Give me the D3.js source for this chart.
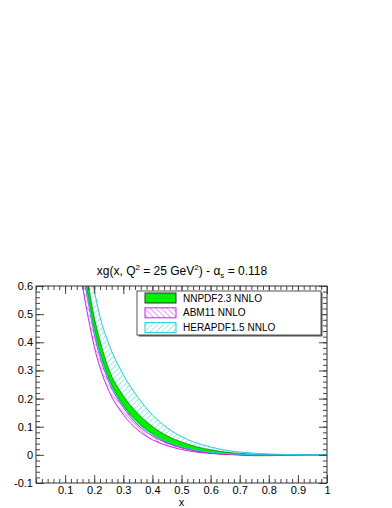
<!DOCTYPE html>
<html>
<head>
<meta charset="utf-8">
<script src="https://cdn.jsdelivr.net/npm/d3@7"></script>
<style>
  body { margin: 0; background: #fff; }
  text { font-family: "Liberation Sans", Arial, sans-serif; fill: #000; }
</style>
</head>
<body>
<div class="canvas"></div>
<script>

// x grid shared by all bands
const xs = [0.15, 0.16, 0.17, 0.18, 0.2, 0.22, 0.25, 0.3, 0.35, 0.4, 0.45, 0.5, 0.55, 0.6, 0.65, 0.7, 0.75, 0.8, 0.85, 0.9, 0.95, 1.0];

// NNPDF2.3 NNLO band
const nnpdfLow  = [0.76, 0.68, 0.615, 0.56, 0.45, 0.365, 0.272, 0.176, 0.116, 0.073, 0.044, 0.026, 0.014, 0.006, 0.002, -0.001, -0.003, -0.003, -0.002, -0.001, 0, 0];
const nnpdfHigh = [0.80, 0.72, 0.655, 0.60, 0.49, 0.405, 0.305, 0.21, 0.147, 0.101, 0.068, 0.046, 0.029, 0.018, 0.010, 0.005, 0.002, 0.0005, 0, 0, 0, 0];

// ABM11 NNLO band
const abmLow  = [0.68, 0.60, 0.54, 0.485, 0.385, 0.31, 0.228, 0.143, 0.088, 0.054, 0.033, 0.019, 0.010, 0.005, 0.002, 0.0005, 0, 0, 0, 0, 0, 0];
const abmHigh = [0.74, 0.66, 0.595, 0.54, 0.43, 0.348, 0.26, 0.168, 0.106, 0.067, 0.042, 0.025, 0.014, 0.007, 0.003, 0.001, 0.0003, 0, 0, 0, 0, 0];

// HERAPDF1.5 NNLO band
const heraLow  = [0.74, 0.66, 0.60, 0.545, 0.44, 0.357, 0.266, 0.172, 0.112, 0.073, 0.047, 0.029, 0.017, 0.009, 0.005, 0.002, 0.0008, 0.0003, 0, 0, 0, 0];
const heraHigh = [0.90, 0.82, 0.75, 0.69, 0.585, 0.49, 0.395, 0.285, 0.205, 0.142, 0.097, 0.065, 0.043, 0.028, 0.017, 0.010, 0.006, 0.003, 0.0015, 0.0005, 0.0001, 0];

const legendLabels = ['NNPDF2.3 NNLO', 'ABM11 NNLO', 'HERAPDF1.5 NNLO'];
const xTickLabels = ['0.1', '0.2', '0.3', '0.4', '0.5', '0.6', '0.7', '0.8', '0.9', '1'];
const yTickLabels = ['-0.1', '0', '0.1', '0.2', '0.3', '0.4', '0.5', '0.6'];

const green = '#00f000', greenLine = '#008800';
const magenta = '#cc22ee', cyan = '#22cdd4';

const margin = { top: 286, right: 65, bottom: 25, left: 36 };
const width = 392, height = 508;
const graphWidth = width - margin.left - margin.right;
const graphHeight = height - margin.top - margin.bottom;

const svg = d3.select('.canvas')
    .append('svg')
        .attr('width', width)
        .attr('height', height);

const defs = svg.append('defs');

defs.append('clipPath').attr('id', 'frame-clip')
    .append('rect')
        .attr('width', graphWidth)
        .attr('height', graphHeight);

// hatch patterns
const hatch = (id, color, angle) => {
    const p = defs.append('pattern')
        .attr('id', id)
        .attr('patternUnits', 'userSpaceOnUse')
        .attr('width', 4)
        .attr('height', 4)
        .attr('patternTransform', `rotate(${angle})`);
    p.append('line')
        .attr('x1', 0).attr('y1', 0)
        .attr('x2', 0).attr('y2', 4)
        .attr('stroke', color)
        .attr('stroke-width', 0.9);
};
hatch('hatch-abm', magenta, -45);
hatch('hatch-hera', cyan, 45);

const graph = svg.append('g')
    .attr('transform', `translate(${margin.left}, ${margin.top})`);

// scales
const x = d3.scaleLinear().domain([0, 1]).range([0, graphWidth]);
const y = d3.scaleLinear().domain([-0.1, 0.6]).range([graphHeight, 0]);

const band = (low, high) => xs.map((v, i) => ({ x: v, lo: low[i], hi: high[i] }));

const area = d3.area()
    .x(d => x(d.x))
    .y0(d => y(d.lo))
    .y1(d => y(d.hi))
    .curve(d3.curveMonotoneX);

const lineLo = d3.line().x(d => x(d.x)).y(d => y(d.lo)).curve(d3.curveMonotoneX);
const lineHi = d3.line().x(d => x(d.x)).y(d => y(d.hi)).curve(d3.curveMonotoneX);

const plot = graph.append('g').attr('clip-path', 'url(#frame-clip)');

const bands = [
    { data: band(abmLow, abmHigh), fill: 'url(#hatch-abm)', stroke: magenta },
    { data: band(heraLow, heraHigh), fill: 'url(#hatch-hera)', stroke: cyan }
];

bands.forEach(b => {
    plot.append('path').datum(b.data)
        .attr('d', area)
        .attr('fill', b.fill);
});

// nnpdf solid band on top
const nn = band(nnpdfLow, nnpdfHigh);
plot.append('path').datum(nn)
    .attr('d', area)
    .attr('fill', green);
[lineLo, lineHi].forEach(l => {
    plot.append('path').datum(nn)
        .attr('d', l)
        .attr('fill', 'none')
        .attr('stroke', greenLine)
        .attr('stroke-width', 0.8);
});

bands.forEach(b => {
    [lineLo, lineHi].forEach(l => {
        plot.append('path').datum(b.data)
            .attr('d', l)
            .attr('fill', 'none')
            .attr('stroke', b.stroke)
            .attr('stroke-width', 1);
    });
});

// axes, ROOT style ticks pointing inwards on all sides
const yMajor = yTickLabels.map(Number);
const xMajor = xTickLabels.map(Number);
const yMinor = d3.range(-0.1, 0.6001, 0.02);
const xMinor = d3.range(0, 1.0001, 0.02);

const axisStyle = g => {
    g.select('.domain').remove();
    g.selectAll('line').attr('stroke', '#444');
    g.selectAll('text')
        .style('font-family', '"Liberation Sans", Arial, sans-serif')
        .style('font-size', '11px')
        .attr('fill', '#000');
};

graph.append('g')
    .call(d3.axisLeft(y).tickValues(yMinor).tickSize(-4).tickFormat(''))
    .call(axisStyle);
graph.append('g')
    .call(d3.axisLeft(y).tickValues(yMajor).tickSize(-8).tickPadding(3)
        .tickFormat((d, i) => yTickLabels[i]))
    .call(axisStyle);

graph.append('g')
    .attr('transform', `translate(${graphWidth}, 0)`)
    .call(d3.axisRight(y).tickValues(yMinor).tickSize(-4).tickFormat(''))
    .call(axisStyle);
graph.append('g')
    .attr('transform', `translate(${graphWidth}, 0)`)
    .call(d3.axisRight(y).tickValues(yMajor).tickSize(-8).tickFormat(''))
    .call(axisStyle);

graph.append('g')
    .attr('transform', `translate(0, ${graphHeight})`)
    .call(d3.axisBottom(x).tickValues(xMinor).tickSize(-4).tickFormat(''))
    .call(axisStyle);
graph.append('g')
    .attr('transform', `translate(0, ${graphHeight})`)
    .call(d3.axisBottom(x).tickValues(xMajor).tickSize(-8).tickPadding(3)
        .tickFormat((d, i) => xTickLabels[i]))
    .call(axisStyle);

graph.append('g')
    .call(d3.axisTop(x).tickValues(xMinor).tickSize(-4).tickFormat(''))
    .call(axisStyle);
graph.append('g')
    .call(d3.axisTop(x).tickValues(xMajor).tickSize(-8).tickFormat(''))
    .call(axisStyle);

// frame
graph.append('rect')
    .attr('width', graphWidth)
    .attr('height', graphHeight)
    .attr('fill', 'none')
    .attr('stroke', '#333')
    .attr('stroke-width', 1);

// x title
graph.append('text')
    .attr('x', x(0.5))
    .attr('y', graphHeight + 23)
    .attr('text-anchor', 'middle')
    .style('font-size', '11px')
    .text('x');

// title
const title = svg.append('text')
    .attr('x', 182)
    .attr('y', 275)
    .attr('text-anchor', 'middle')
    .style('font-size', '12px');
title.append('tspan').text('xg(x, Q');
title.append('tspan').attr('dy', -5).style('font-size', '8px').text('2');
title.append('tspan').attr('dy', 5).text(' = 25 GeV');
title.append('tspan').attr('dy', -5).style('font-size', '8px').text('2');
title.append('tspan').attr('dy', 5).text(') - \u03b1');
title.append('tspan').attr('dy', 3).style('font-size', '8px').text('s');
title.append('tspan').attr('dy', -3).text(' = 0.118');

// legend
const legend = svg.append('g').attr('transform', 'translate(137, 291)');
legend.append('rect')
    .attr('x', 1.5).attr('y', 1.5)
    .attr('width', 184).attr('height', 44)
    .attr('fill', '#555');
legend.append('rect')
    .attr('width', 184).attr('height', 44)
    .attr('fill', '#fff')
    .attr('stroke', '#555')
    .attr('stroke-width', 1);

const swatch = [
    { fill: green, stroke: '#333' },
    { fill: 'url(#hatch-abm)', stroke: magenta },
    { fill: 'url(#hatch-hera)', stroke: cyan }
];

const entry = legend.selectAll('.entry')
    .data(legendLabels)
    .enter()
    .append('g')
        .attr('class', 'entry')
        .attr('transform', (d, i) => `translate(0, ${7 + i * 14.8})`);

entry.append('rect')
    .attr('x', 8).attr('y', -5)
    .attr('width', 31).attr('height', 10)
    .attr('fill', (d, i) => swatch[i].fill)
    .attr('stroke', (d, i) => swatch[i].stroke)
    .attr('stroke-width', 1);

entry.append('text')
    .attr('x', 46)
    .attr('dy', '0.35em')
    .style('font-size', '10px')
    .text(d => d);

</script>
</body>
</html>
